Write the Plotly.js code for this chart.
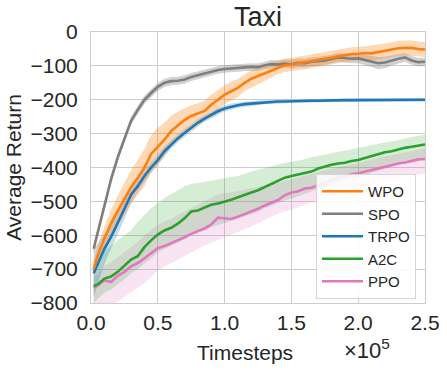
<!DOCTYPE html>
<html>
<head>
<meta charset="utf-8">
<script src="https://cdn.plot.ly/plotly-3.0.1.min.js"></script>
<style>html,body{margin:0;padding:0;background:#fff;}#chart{width:447px;height:373px;}</style>
</head>
<body>
<div id="chart"></div>
<script>
// Timesteps (×10^5)
const steps = [0.02,0.05,0.10,0.15,0.20,0.25,0.30,0.35,0.40,0.45,0.50,0.55,0.60,0.65,0.70,0.75,0.80,0.85,0.90,0.95,1.00,1.05,1.10,1.15,1.20,1.25,1.30,1.35,1.40,1.45,1.50,1.55,1.60,1.65,1.70,1.75,1.80,1.85,1.90,1.95,2.00,2.05,2.10,2.15,2.20,2.25,2.30,2.35,2.40,2.45,2.50];

const seriesNames = ["WPO","SPO","TRPO","A2C","PPO"];

const wpoMean = [-700,-660,-610,-565,-528,-492,-458,-430,-400,-360,-338,-318,-292,-275,-260,-248,-240,-233,-215,-200,-185,-175,-165,-150,-138,-130,-122,-112,-104,-98,-96,-93,-90,-86,-83,-80,-76,-72,-68,-65,-64,-62,-63,-59,-56,-52,-48,-47,-47,-50,-52];
const wpoSpread = [25,30,35,40,45,48,50,52,55,55,55,50,45,40,35,32,30,30,30,30,28,28,26,25,25,24,22,22,20,20,20,20,20,20,20,20,20,20,20,20,20,20,22,22,22,22,22,22,22,22,22];

const spoMean = [-640,-592,-515,-435,-370,-315,-262,-230,-200,-180,-162,-150,-145,-144,-140,-133,-128,-122,-116,-112,-109,-107,-106,-104,-103,-104,-98,-95,-96,-93,-95,-91,-92,-88,-87,-84,-80,-75,-77,-79,-78,-82,-86,-92,-90,-84,-79,-75,-84,-89,-88];
const spoSpread = [14,14,14,13,13,13,12,12,12,12,12,12,12,12,12,12,12,12,12,11,11,11,11,11,11,11,11,12,12,12,13,13,13,13,13,13,13,13,13,13,14,15,17,18,17,15,14,13,13,13,12];

const trpoMean = [-712,-685,-640,-605,-565,-525,-480,-455,-425,-400,-378,-352,-332,-314,-298,-283,-268,-256,-244,-234,-226,-220,-216,-213,-211,-209,-207,-206,-205,-205,-204,-204,-203,-203,-203,-202,-202,-202,-201,-201,-201,-201,-201,-201,-201,-200,-200,-200,-200,-200,-200];
const trpoSpread = [70,60,45,38,32,28,24,20,18,16,15,14,13,12,12,11,11,10,10,10,9,9,8,8,7,7,6,6,6,6,5,5,5,5,5,5,5,5,5,5,5,5,5,5,5,5,5,5,5,5,5];

const a2cMean = [-750,-745,-728,-722,-708,-690,-672,-662,-635,-615,-598,-586,-578,-566,-550,-530,-527,-518,-510,-506,-501,-495,-488,-480,-474,-467,-458,-448,-438,-430,-425,-420,-416,-412,-403,-397,-392,-388,-386,-381,-378,-372,-366,-360,-355,-352,-346,-342,-339,-336,-332];
const a2cUpper = [-700,-680,-645,-630,-615,-600,-585,-560,-540,-520,-505,-490,-478,-468,-455,-448,-446,-442,-440,-435,-432,-428,-425,-418,-412,-407,-402,-396,-390,-386,-383,-380,-376,-370,-366,-360,-356,-352,-348,-344,-340,-336,-333,-330,-326,-323,-318,-314,-310,-306,-303];
const a2cLower = [-800,-790,-770,-760,-745,-730,-712,-700,-685,-668,-650,-640,-632,-622,-612,-600,-592,-584,-576,-570,-564,-558,-552,-545,-538,-530,-522,-512,-504,-496,-490,-484,-478,-470,-464,-456,-450,-444,-438,-432,-426,-420,-414,-408,-402,-398,-392,-386,-380,-376,-372];

const ppoMean = [-755,-748,-733,-738,-720,-708,-692,-682,-668,-652,-638,-632,-624,-614,-606,-596,-588,-580,-568,-548,-550,-552,-545,-538,-530,-522,-512,-505,-496,-482,-474,-470,-462,-460,-452,-446,-436,-430,-426,-420,-417,-412,-406,-402,-396,-392,-388,-385,-380,-376,-375];
const ppoUpper = [-725,-715,-690,-680,-665,-650,-635,-620,-600,-585,-570,-560,-552,-540,-530,-518,-508,-498,-488,-480,-476,-474,-470,-466,-462,-456,-452,-448,-444,-440,-436,-430,-424,-418,-412,-408,-404,-400,-396,-392,-388,-384,-378,-372,-368,-364,-358,-354,-350,-346,-343];
const ppoLower = [-840,-835,-825,-810,-795,-782,-768,-755,-742,-725,-705,-692,-682,-672,-662,-652,-640,-630,-620,-612,-605,-598,-590,-582,-574,-566,-556,-546,-536,-530,-525,-518,-510,-502,-496,-490,-484,-478,-472,-466,-460,-455,-450,-445,-440,-436,-432,-428,-424,-420,-418];

const xTicks = [0,0.5,1.0,1.5,2.0,2.5];
const xTickText = ["0.0","0.5","1.0","1.5","2.0","2.5"];
const yTicks = [0,-100,-200,-300,-400,-500,-600,-700,-800];

const colors = {WPO:"#ff7f0e", SPO:"#7f7f7f", TRPO:"#1f77b4", A2C:"#2ca02c", PPO:"#e377c2"};
const fills = {WPO:"rgba(255,127,14,0.3)", SPO:"rgba(127,127,127,0.35)", TRPO:"rgba(31,119,180,0.25)", A2C:"rgba(44,160,44,0.2)", PPO:"rgba(227,119,194,0.2)"};

const series = {
  WPO: {mean: wpoMean, lo: wpoMean.map((v,i)=>v-wpoSpread[i]), hi: wpoMean.map((v,i)=>v+wpoSpread[i])},
  SPO: {mean: spoMean, lo: spoMean.map((v,i)=>v-spoSpread[i]), hi: spoMean.map((v,i)=>v+spoSpread[i])},
  TRPO: {mean: trpoMean, lo: trpoMean.map((v,i)=>v-trpoSpread[i]), hi: trpoMean.map((v,i)=>v+trpoSpread[i])},
  A2C: {mean: a2cMean, lo: a2cLower, hi: a2cUpper},
  PPO: {mean: ppoMean, lo: ppoLower, hi: ppoUpper}
};

const traces = [];
const drawOrder = ["PPO","A2C","TRPO","SPO","WPO"];
drawOrder.forEach(name => {
  const s = series[name];
  traces.push({
    x: steps.concat(steps.slice().reverse()),
    y: s.hi.concat(s.lo.slice().reverse()),
    type: "scatter", mode: "lines", fill: "toself",
    fillcolor: fills[name], line: {width: 0, color: "rgba(0,0,0,0)"},
    hoverinfo: "skip", showlegend: false, legendgroup: name
  });
});
drawOrder.forEach(name => {
  const s = series[name];
  traces.push({
    x: steps, y: s.mean, name: name,
    type: "scatter", mode: "lines",
    line: {color: colors[name], width: 2.6},
    legendgroup: name, legendrank: seriesNames.indexOf(name) + 1
  });
});

const font = "'Liberation Sans', Arial, sans-serif";
const layout = {
  width: 447, height: 373,
  margin: {l: 91, r: 22, t: 32, b: 70, autoexpand: false},
  paper_bgcolor: "#ffffff", plot_bgcolor: "#ffffff",
  font: {family: font, size: 20, color: "#262626"},
  title: {text: "Taxi", font: {size: 27, color: "#262626"}, x: 0.5, xref: "paper", xanchor: "center", y: 0.955, yref: "container", yanchor: "middle"},
  xaxis: {
    range: [0, 2.5], tickvals: xTicks, ticktext: xTickText,
    showgrid: true, gridcolor: "#cccccc", gridwidth: 1,
    showline: true, linecolor: "#cccccc", linewidth: 1, mirror: true,
    ticks: "", zeroline: false, tickfont: {size: 21, color: "#262626"},
    ticklabelstandoff: 1
  },
  yaxis: {
    range: [-800, 0], tickvals: yTicks,
    showgrid: true, gridcolor: "#cccccc", gridwidth: 1,
    showline: true, linecolor: "#cccccc", linewidth: 1, mirror: true,
    ticks: "", zeroline: false, tickfont: {size: 21, color: "#262626"},
    ticklabelstandoff: 8,
    title: {text: "Average Return", font: {size: 21, color: "#262626"}, standoff: 3}
  },
  annotations: [
    {text: "Timesteps", xref: "paper", yref: "paper", x: (245-91)/334, y: -(352-303)/271, xanchor: "center", yanchor: "middle", showarrow: false, font: {size: 21, color: "#262626"}},
    {text: "×10<sup>5</sup>", xref: "paper", yref: "paper", x: (367-91)/334, y: -(349-303)/271, xanchor: "center", yanchor: "middle", showarrow: false, font: {size: 22, color: "#262626"}}
  ],
  legend: {
    x: (316-91)/334, y: (303-174)/271, xanchor: "left", yanchor: "top",
    bgcolor: "rgba(255,255,255,0.85)", bordercolor: "#d5d5d5", borderwidth: 1,
    font: {size: 15, color: "#262626"}, tracegroupgap: 3, traceorder: "normal",
    itemwidth: 41
  },
  showlegend: true
};

Plotly.newPlot("chart", traces, layout, {staticPlot: true, displayModeBar: false});
</script>
</body>
</html>
